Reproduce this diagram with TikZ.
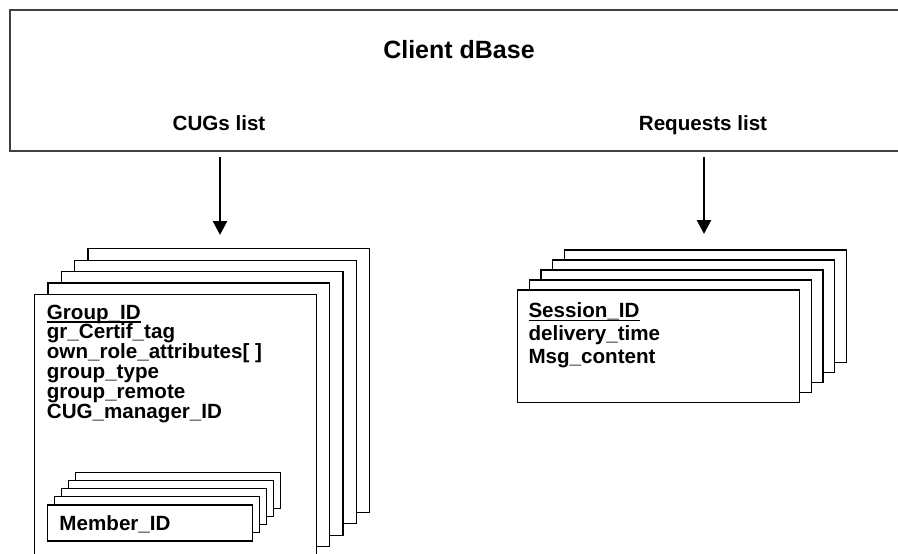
\documentclass[tikz,border=0pt]{standalone}
\usepackage{fontspec}
\setmainfont{Liberation Sans}
\usetikzlibrary{arrows.meta}
% underlined key field
\newcommand\keyfield[1]{\setbox0\hbox{#1}\rlap{\rule[-3.6pt]{\wd0}{1.7pt}}\box0}
\begin{document}
\begin{tikzpicture}[x=1pt,y=-1pt,
  frame/.style={draw=black!75,line width=1.5pt},
  card/.style={draw=black,fill=white,line width=1.2pt},
  title/.style={font=\bfseries\fontsize{25}{28}\selectfont,inner sep=0pt,anchor=base},
  head/.style={font=\bfseries\fontsize{20.6}{24}\selectfont,inner sep=0pt,anchor=base},
  fields/.style={font=\bfseries\fontsize{20.6}{#1}\selectfont,inner sep=0pt,anchor=north west,align=left},
  flow/.style={line width=2.8pt,-{Triangle[width=14pt,length=14pt]}}]
\useasboundingbox (0,0) rectangle (898,554);
\clip (0,0) rectangle (898,554);
\lineskiplimit=-20pt

% database frame with its two lists
\draw[frame] (10,10) rectangle (920,151);
\node[title] (dbase) at (459,58) {Client dBase};
\node[head] (cugs) at (219,130) {CUGs list};
\node[head] (reqs) at (703,130) {Requests list};

% stack of CUG records
\foreach \i in {4,3,2,1,0}
  \filldraw[card] ({34.7+13.3*\i},{294.3-11.4*\i}) rectangle ({316.3+13.3*\i},{558-11.4*\i});
\node[fields=19.9] (cugrec) at (46.7,304.5) {\keyfield{Group\_ID}\\gr\_Certif\_tag\\own\_role\_attributes[ ]\\group\_type\\group\_remote\\CUG\_manager\_ID};

% nested stack of members
\foreach \i in {4,3,2,1,0}
  \filldraw[card] ({47.3+7*\i},{505-8.2*\i}) rectangle ({252.7+7*\i},{541-8.2*\i});
\node[head,anchor=base west] (member) at (59.3,530) {Member\_ID};

% stack of request records
\foreach \i in {4,3,2,1,0}
  \filldraw[card] ({517.3+11.8*\i},{290-10*\i}) rectangle ({799.3+11.8*\i},{402.5-10*\i});
\node[fields=22.8] (reqrec) at (528.3,302.5) {\keyfield{Session\_ID}\\delivery\_time\\Msg\_content};

% links from the lists to their records
\coordinate (cugsfrom) at (220,157);
\coordinate (cugsto) at (220,235);
\coordinate (reqsfrom) at (704,157);
\coordinate (reqsto) at (704,234);
\draw[flow] (cugsfrom) -- (cugsto);
\draw[flow] (reqsfrom) -- (reqsto);
\end{tikzpicture}
\end{document}
